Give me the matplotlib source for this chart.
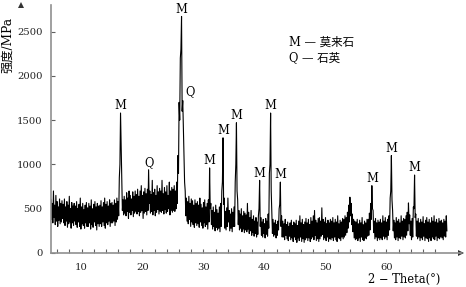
import numpy as np
import matplotlib
matplotlib.use("Agg")
import matplotlib.pyplot as plt

plt.rcParams['font.family'] = ['DejaVu Serif', 'Noto Sans CJK SC']

# 2-Theta grid: start and step (degrees); lower-envelope samples sit half a step later
theta_start = 5.0
theta_step = 0.2

# Upper edge of the noisy trace (including peak tops), one row per 2 degrees
upper = [
    600, 560, 700, 540, 650, 580, 520, 610, 560, 590,      # 5.0
    550, 610, 520, 580, 540, 640, 500, 570, 530, 560,      # 7.0
    530, 580, 500, 550, 620, 520, 560, 490, 540, 570,      # 9.0
    510, 560, 530, 600, 500, 550, 580, 520, 560, 530,      # 11.0
    540, 590, 520, 570, 620, 550, 580, 530, 600, 560,      # 13.0
    570, 540, 600, 560, 620, 580, 850, 1580, 800, 600,     # 15.0
    640, 600, 680, 620, 700, 650, 610, 690, 640, 700,      # 17.0
    660, 720, 640, 700, 760, 650, 690, 730, 670, 720,      # 19.0
    940, 700, 660, 820, 680, 720, 650, 760, 690, 730,      # 21.0
    700, 820, 670, 740, 690, 760, 650, 800, 700, 740,      # 23.0
    720, 760, 700, 800, 1100, 1700, 2200, 2670, 1720, 1100,  # 25.0
    700, 620, 580, 640, 560, 610, 590, 540, 600, 560,      # 27.0
    580, 540, 620, 550, 510, 570, 600, 520, 560, 600,      # 29.0
    960, 560, 480, 520, 460, 540, 490, 450, 520, 560,      # 31.0
    700, 1300, 620, 470, 510, 620, 480, 440, 500, 460,     # 33.0
    520, 800, 1470, 600, 480, 440, 500, 420, 470, 450,     # 35.0
    430, 560, 460, 400, 480, 380, 420, 360, 400, 350,      # 37.0
    420, 820, 400, 350, 380, 330, 390, 360, 440, 900,      # 39.0
    1580, 460, 380, 340, 370, 320, 360, 500, 800, 420,     # 41.0
    360, 330, 380, 320, 350, 300, 340, 370, 310, 350,      # 43.0
    330, 370, 310, 360, 420, 340, 380, 320, 350, 390,      # 45.0
    340, 380, 320, 400, 360, 420, 480, 370, 340, 390,      # 47.0
    400, 360, 510, 380, 350, 400, 330, 370, 340, 380,      # 49.0
    360, 400, 340, 380, 350, 420, 330, 370, 350, 390,      # 51.0
    380, 420, 400, 460, 540, 630, 560, 440, 380, 360,      # 53.0
    350, 380, 330, 370, 340, 400, 320, 360, 340, 380,      # 55.0
    380, 450, 560, 760, 480, 360, 390, 340, 370, 350,      # 57.0
    380, 340, 420, 360, 400, 350, 380, 420, 620, 1100,     # 59.0
    480, 370, 340, 400, 360, 380, 340, 420, 360, 390,      # 61.0
    380, 420, 460, 565, 430, 360, 390, 520, 880, 440,      # 63.0
    360, 390, 340, 380, 350, 410, 330, 370, 400, 350,      # 65.0
    380, 340, 400, 360, 420, 350, 380, 340, 390, 360,      # 67.0
    370, 340, 380, 360, 420,                               # 69.0
]

# Lower edge of the noisy trace, sampled at 5.1, 5.3, ...
lower = [
    380, 340, 400, 320, 360, 300, 370, 330, 350, 390,      # 5.1
    340, 310, 360, 290, 330, 350, 280, 340, 310, 360,      # 7.1
    320, 290, 350, 300, 270, 330, 310, 280, 340, 300,      # 9.1
    300, 340, 270, 320, 290, 350, 310, 260, 330, 300,      # 11.1
    330, 300, 350, 310, 280, 340, 320, 360, 300, 340,      # 13.1
    340, 360, 310, 350, 380, 420, 1000, 1200, 480, 430,    # 15.1
    450, 420, 470, 390, 460, 430, 480, 410, 450, 470,      # 17.1
    440, 470, 420, 460, 480, 390, 450, 470, 430, 480,      # 19.1
    560, 450, 470, 430, 480, 420, 460, 490, 440, 470,      # 21.1
    460, 480, 440, 490, 450, 470, 500, 430, 480, 460,      # 23.1
    480, 470, 500, 560, 900, 1500, 2300, 1600, 1400, 800,  # 25.1
    420, 360, 330, 380, 300, 350, 320, 290, 340, 310,      # 27.1
    330, 290, 350, 310, 280, 340, 300, 320, 270, 350,      # 29.1
    500, 320, 270, 300, 250, 290, 260, 280, 240, 300,      # 31.1
    800, 550, 280, 260, 300, 350, 250, 280, 240, 300,      # 33.1
    300, 1000, 700, 320, 260, 280, 240, 270, 230, 260,     # 35.1
    240, 270, 220, 250, 200, 230, 190, 220, 180, 210,      # 37.1
    500, 300, 200, 180, 220, 170, 210, 190, 280, 1000,     # 39.1
    700, 220, 190, 210, 170, 200, 260, 550, 300, 180,      # 41.1
    180, 150, 200, 160, 140, 190, 150, 170, 130, 180,      # 43.1
    150, 120, 170, 140, 180, 130, 160, 120, 150, 170,      # 45.1
    140, 170, 130, 160, 180, 150, 200, 140, 160, 130,      # 47.1
    160, 190, 210, 150, 170, 140, 180, 130, 160, 150,      # 49.1
    170, 140, 180, 150, 130, 170, 160, 140, 180, 160,      # 51.1
    180, 200, 230, 280, 350, 420, 320, 240, 170, 150,      # 53.1
    160, 140, 170, 130, 180, 150, 140, 170, 160, 190,      # 55.1
    200, 260, 380, 500, 230, 160, 180, 140, 170, 150,      # 57.1
    170, 150, 190, 160, 180, 150, 200, 260, 700, 600,      # 59.1
    250, 170, 150, 180, 140, 170, 160, 190, 150, 180,      # 61.1
    170, 200, 250, 330, 200, 150, 180, 500, 400, 190,      # 63.1
    160, 180, 140, 170, 150, 190, 140, 170, 160, 130,      # 65.1
    170, 140, 180, 160, 150, 190, 140, 170, 160, 180,      # 67.1
    170, 150, 190, 180, 250,                               # 69.1
]

two_theta = theta_start + theta_step * np.arange(len(upper))

# Peak labels: positions (2-Theta), top intensities, phase letters
peak_pos = [16.4, 21.0, 26.4, 26.6, 31.0, 33.2, 35.4, 39.2, 41.0, 42.6, 57.6, 60.8, 64.6]
peak_top = [1580, 940, 2670, 1720, 960, 1300, 1470, 820, 1580, 800, 760, 1100, 880]
peak_lab = ['M', 'Q', 'M', 'Q', 'M', 'M', 'M', 'M', 'M', 'M', 'M', 'M', 'M']

y_ticks = [0, 500, 1000, 1500, 2000, 2500]
x_ticks = [10, 20, 30, 40, 50, 60]
legend_lines = ['M \u2014 莫来石', 'Q \u2014 石英']

# trace alternates between the upper and lower edge samples
trace_x = np.column_stack([two_theta, two_theta + theta_step / 2]).ravel()
trace_y = np.column_stack([upper, lower]).ravel()

W, H = 466, 287
PX_X = 6.1         # pixels per degree
PX_Y = 44.3 / 500  # pixels per intensity unit
left_px, bottom_px, right_px, top_px = 51, 253, 461, 5
fig = plt.figure(figsize=(W / 100, H / 100), dpi=100)
ax = fig.add_axes([left_px / W, (H - bottom_px) / H,
                   (right_px - left_px) / W, (bottom_px - top_px) / H])

ax.plot(trace_x, trace_y, color='black', lw=0.8)

ax.set_xlim(5, 5 + (right_px - left_px) / PX_X)
ax.set_ylim(0, (bottom_px - top_px) / PX_Y)

for s in ['top', 'right']:
    ax.spines[s].set_visible(False)
for s in ['left', 'bottom']:
    ax.spines[s].set_color('#909090')
    ax.spines[s].set_linewidth(1.2)

ax.set_yticks(y_ticks)
ax.set_xticks(x_ticks)
ax.set_xticks(np.arange(6, 69, 2), minor=True)
ax.tick_params(axis='both', which='both', direction='in', length=3, width=0.8,
               color='#606060', labelsize=7.2, labelcolor='#222222')
ax.tick_params(axis='x', which='major', pad=7)
ax.tick_params(axis='y', which='major', pad=6)

# axis arrows
ax.plot(1, 0, marker='>', color='#333333', ms=4.5, mew=0,
        transform=ax.get_yaxis_transform(), clip_on=False)
ax.plot(0, 1, marker='^', color='#333333', ms=4.5, mew=0,
        transform=ax.get_xaxis_transform(), clip_on=False)

for px, py, lab in zip(peak_pos, peak_top, peak_lab):
    if lab == 'Q' and px > 26:
        ax.annotate(lab, (px, py), xytext=(5, 2), textcoords='offset points',
                    ha='center', va='bottom', fontsize=8.3)
    else:
        ax.annotate(lab, (px, py), xytext=(0, 0.5), textcoords='offset points',
                    ha='center', va='bottom', fontsize=8.3)

fig.text(289 / W, 1 - 42 / H, legend_lines[0], ha='left', va='center', fontsize=8.3)
fig.text(289 / W, 1 - 58 / H, legend_lines[1], ha='left', va='center', fontsize=8.3)

fig.text(8 / W, 1 - 45 / H, '强度/MPa', rotation=90, ha='center', va='center', fontsize=8.8)
fig.text(404 / W, 1 - 279 / H, '2 \u2212 Theta(°)', ha='center', va='center', fontsize=8.3)

fig.savefig('out.png', dpi=100)
